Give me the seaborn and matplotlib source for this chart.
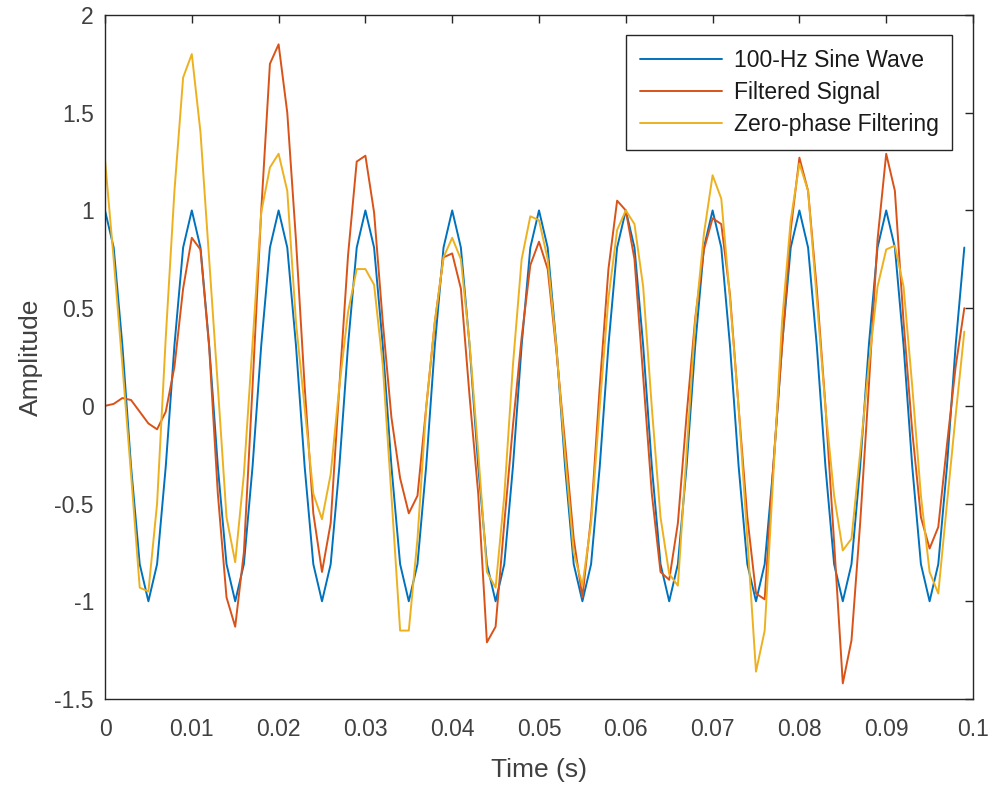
import numpy as np
import pandas as pd
import seaborn as sns
import matplotlib.pyplot as plt

# sample times (1 kHz, 100 samples)
t = np.arange(100) / 1000

sine = [1.0, 0.81, 0.31, -0.31, -0.81, -1.0, -0.81, -0.31, 0.31, 0.81,
        1.0, 0.81, 0.31, -0.31, -0.81, -1.0, -0.81, -0.31, 0.31, 0.81,
        1.0, 0.81, 0.31, -0.31, -0.81, -1.0, -0.81, -0.31, 0.31, 0.81,
        1.0, 0.81, 0.31, -0.31, -0.81, -1.0, -0.81, -0.31, 0.31, 0.81,
        1.0, 0.81, 0.31, -0.31, -0.81, -1.0, -0.81, -0.31, 0.31, 0.81,
        1.0, 0.81, 0.31, -0.31, -0.81, -1.0, -0.81, -0.31, 0.31, 0.81,
        1.0, 0.81, 0.31, -0.31, -0.81, -1.0, -0.81, -0.31, 0.31, 0.81,
        1.0, 0.81, 0.31, -0.31, -0.81, -1.0, -0.81, -0.31, 0.31, 0.81,
        1.0, 0.81, 0.31, -0.31, -0.81, -1.0, -0.81, -0.31, 0.31, 0.81,
        1.0, 0.81, 0.31, -0.31, -0.81, -1.0, -0.81, -0.31, 0.31, 0.81]

filtered = [0.0, 0.01, 0.04, 0.03, -0.03, -0.09, -0.12, -0.03, 0.2, 0.6,
            0.86, 0.8, 0.3, -0.45, -0.98, -1.13, -0.75, 0.1, 1.0, 1.75,
            1.85, 1.5, 0.85, 0.1, -0.55, -0.85, -0.6, 0.1, 0.77, 1.25,
            1.28, 0.99, 0.43, -0.06, -0.37, -0.55, -0.46, -0.01, 0.43, 0.76,
            0.78, 0.6, 0.05, -0.45, -1.21, -1.13, -0.6, -0.1, 0.35, 0.72,
            0.84, 0.7, 0.28, -0.19, -0.68, -0.98, -0.57, 0.1, 0.7, 1.05,
            1.0, 0.75, 0.15, -0.45, -0.85, -0.89, -0.6, -0.05, 0.45, 0.8,
            0.96, 0.93, 0.57, -0.01, -0.57, -0.96, -0.99, -0.3, 0.3, 0.9,
            1.27, 1.1, 0.6, 0.0, -0.7, -1.42, -1.2, -0.6, 0.1, 0.85,
            1.29, 1.1, 0.43, -0.13, -0.57, -0.73, -0.62, -0.2, 0.2, 0.5]

zerophase = [1.26, 0.75, 0.21, -0.35, -0.93, -0.95, -0.5, 0.35, 1.1, 1.68,
             1.8, 1.4, 0.75, 0.1, -0.57, -0.8, -0.35, 0.32, 0.99, 1.22,
             1.29, 1.1, 0.43, -0.01, -0.45, -0.58, -0.35, 0.1, 0.48, 0.7,
             0.7, 0.62, 0.21, -0.46, -1.15, -1.15, -0.68, -0.01, 0.43, 0.76,
             0.86, 0.75, 0.32, -0.24, -0.85, -0.93, -0.46, 0.21, 0.75, 0.97,
             0.95, 0.75, 0.3, -0.25, -0.75, -0.92, -0.6, 0.0, 0.55, 0.9,
             1.0, 0.93, 0.61, -0.01, -0.57, -0.86, -0.92, -0.24, 0.43, 0.88,
             1.18, 1.06, 0.55, -0.01, -0.68, -1.36, -1.15, -0.35, 0.43, 0.95,
             1.24, 1.1, 0.55, -0.01, -0.46, -0.74, -0.68, -0.24, 0.21, 0.61,
             0.8, 0.82, 0.61, 0.1, -0.46, -0.85, -0.96, -0.5, -0.05, 0.38]

names = ['100-Hz Sine Wave', 'Filtered Signal', 'Zero-phase Filtering']
colors = ['#0072BD', '#D95319', '#EDB120']

df = pd.concat([pd.DataFrame({'t': t, 'y': v, 'sig': n})
                for n, v in zip(names, [sine, filtered, zerophase])])

sns.set_style('white')
plt.rcParams['font.family'] = ['Liberation Sans', 'DejaVu Sans']
grey = '#262626'
tgrey = '#404040'

fig = plt.figure(figsize=(9.93, 7.87), dpi=100)
ax = fig.add_axes([105/993, 1-699/787, 868/993, 684/787])

sns.lineplot(data=df, x='t', y='y', hue='sig', palette=colors, ax=ax,
             linewidth=1.4, sort=False, estimator=None)

ax.set_xlim(0, 0.1)
ax.set_ylim(-1.5, 2)
ax.set_xticks(np.arange(0, 0.11, 0.01))
ax.set_xticklabels(['0', '0.01', '0.02', '0.03', '0.04', '0.05', '0.06',
                    '0.07', '0.08', '0.09', '0.1'])
ax.set_yticks(np.arange(-1.5, 2.1, 0.5))
ax.set_yticklabels(['-1.5', '-1', '-0.5', '0', '0.5', '1', '1.5', '2'])
ax.tick_params(direction='in', length=6, width=1, color=grey,
               labelcolor=tgrey, labelsize=16.5, top=True, right=True)
ax.tick_params(axis='x', pad=14)
ax.tick_params(axis='y', pad=8)
for s in ax.spines.values():
    s.set_color(grey)
    s.set_linewidth(1)
ax.set_xlabel('Time (s)', fontsize=19, color=tgrey, labelpad=12)
ax.set_ylabel('Amplitude', fontsize=19, color=tgrey, labelpad=8)

h, l = ax.get_legend_handles_labels()
leg = ax.legend(h, l, loc='upper right', bbox_to_anchor=(0.976, 0.971),
                borderaxespad=0, fontsize=16.5, frameon=True, fancybox=False,
                framealpha=1, edgecolor=grey, handlelength=3.6,
                borderpad=0.6, labelspacing=0.4, handletextpad=0.5)
leg.get_frame().set_linewidth(1)
for txt in leg.get_texts():
    txt.set_color('#1a1a1a')

fig.savefig('out.png', dpi=100)
